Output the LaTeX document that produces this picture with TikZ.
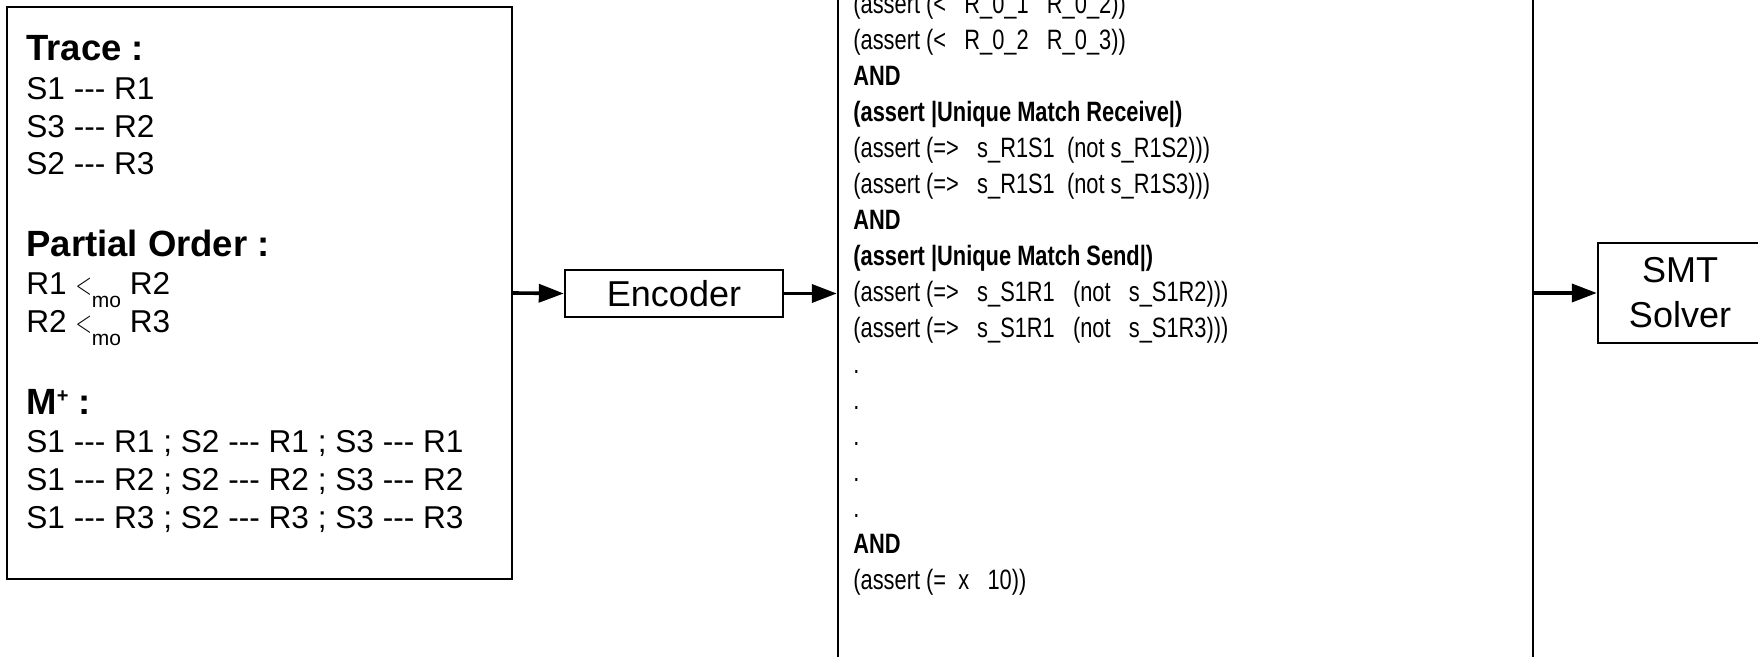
\documentclass[tikz,border=0pt]{standalone}
\usepackage{fontspec}
\usepackage{graphicx}
\newfontfamily\arial{Liberation Sans}
\newfontfamily\narrowfont[FakeStretch=0.78]{Liberation Sans}
\usetikzlibrary{arrows.meta,positioning}
\tikzset{box/.style={draw=black, line width=1.2pt, inner sep=0pt},
 flow/.style={black, line width=1.8pt, -{Triangle[length=12.5pt,width=9pt]}},
 line/.style={anchor=base west, inner sep=0pt, font=\arial\fontsize{15.8}{18}\selectfont},
 head/.style={anchor=base west, inner sep=0pt, font=\arial\fontsize{18.25}{22}\selectfont\bfseries},
 code/.style={anchor=base west, inner sep=0pt, font=\narrowfont\fontsize{14}{18}\selectfont},
 keyw/.style={code, font=\narrowfont\fontsize{14}{18}\selectfont\bfseries},
 block/.style={box, font=\arial\fontsize{18}{22.5}\selectfont, align=center}}
\newcommand{\lessmo}{\scalebox{0.62}[0.9]{\fontsize{17.28}{18}\selectfont$<$}\raisebox{-6.5pt}{\fontsize{10.5}{10.5}\selectfont mo}}

\begin{document}
\begin{tikzpicture}[x=0.5pt,y=-0.5pt]
  \useasboundingbox (0,0) rectangle (1758,657);
  \clip (0,0) rectangle (1758,657);
  \node[box, minimum width=252.5pt, minimum height=286pt] (trace) at (259.5,293) {};
  \node[head] (trhead) at (26,61) {Trace :};
  \node[line] (tr1) at (26,100) {S1 --- R1};
  \node[line] (tr2) at (26,137.5) {S3 --- R2};
  \node[line] (tr3) at (26,175) {S2 --- R3};
  \node[head] (pohead) at (26,257) {Partial Order :};
  \node[line] (po1) at (26,295) {R1 \lessmo\ R2};
  \node[line] (po2) at (26,333) {R2 \lessmo\ R3};
  \node[head] (mhead) at (26,415) {M\raisebox{6pt}{\fontsize{10}{10}\selectfont +} :};
  \node[line] (m1) at (26,453) {S1 --- R1 ; S2 --- R1 ; S3 --- R1};
  \node[line] (m2) at (26,491) {S1 --- R2 ; S2 --- R2 ; S3 --- R2};
  \node[line] (m3) at (26,529) {S1 --- R3 ; S2 --- R3 ; S3 --- R3};

  \node[block, minimum width=109pt, minimum height=23.5pt] (enc) at (674,293.5) {Encoder};

  \node[box, minimum width=347.5pt, minimum height=370pt] (formula) at (1185.5,330) {};
  \node[code] (f0) at (853,14) {(assert (<~~~R\_0\_1~~~R\_0\_2))};
  \node[code] (f1) at (853,50) {(assert (<~~~R\_0\_2~~~R\_0\_3))};
  \node[keyw] (f2) at (853,86) {AND};
  \node[keyw] (f3) at (853,122) {(assert |Unique Match Receive|)};
  \node[code] (f4) at (853,158) {(assert (=>~~~s\_R1S1~~(not s\_R1S2)))};
  \node[code] (f5) at (853,194) {(assert (=>~~~s\_R1S1~~(not s\_R1S3)))};
  \node[keyw] (f6) at (853,230) {AND};
  \node[keyw] (f7) at (853,266) {(assert |Unique Match Send|)};
  \node[code] (f8) at (853,302) {(assert (=>~~~s\_S1R1~~~(not~~~s\_S1R2)))};
  \node[code] (f9) at (853,338) {(assert (=>~~~s\_S1R1~~~(not~~~s\_S1R3)))};
  \node[code] (d1) at (853,374) {.};
  \node[code] (d2) at (853,410) {.};
  \node[code] (d3) at (853,446) {.};
  \node[code] (d4) at (853,482) {.};
  \node[code] (d5) at (853,518) {.};
  \node[keyw] (f10) at (853,554) {AND};
  \node[code] (f11) at (853,590) {(assert (=~~x~~~10))};

  \node[block, minimum width=82pt, minimum height=50pt] (solver) at (1680,293) {SMT\\Solver};

  \draw[flow] (trace.east) -- (enc.west);
  \draw[flow] (enc.east) -- (enc.east -| formula.west);
  \draw[flow] (formula.east |- solver.west) -- (solver.west);
\end{tikzpicture}
\end{document}
